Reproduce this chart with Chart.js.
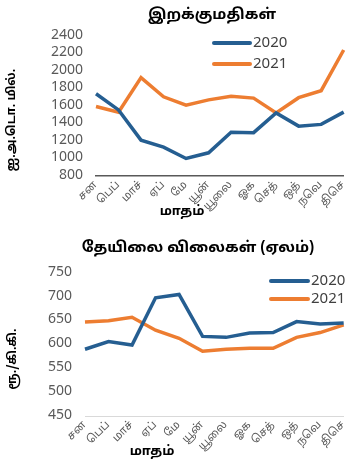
<!DOCTYPE html>
<html>
<head>
<meta charset="utf-8">
<script src="https://cdn.jsdelivr.net/npm/chart.js@4.4.1/dist/chart.umd.min.js"></script>
<style>
  body { margin: 0; background: #fff; }
  .box { position: absolute; left: 0; width: 356px; }
</style>
</head>
<body>
<div class="box" style="top:0;height:228px"><canvas id="imports"></canvas></div>
<div class="box" style="top:228px;height:236px"><canvas id="tea"></canvas></div>
<script>
const months = ['சன', 'பெப்', 'மாச்', 'ஏப்', 'மே', 'யூன்', 'யூலை', 'ஓக', 'செத்', 'ஒத்', 'நவெ', 'திசெ'];

// இறக்குமதிகள் (ஐ.அ.டொ. மில்.)
const imports2020 = [1740, 1555, 1210, 1130, 1000, 1065, 1300, 1295, 1520, 1370, 1390, 1530];
const imports2021 = [1595, 1530, 1925, 1705, 1610, 1670, 1710, 1690, 1520, 1695, 1775, 2240];

// தேயிலை விலைகள் (ரூ./கி.கி.)
const tea2020 = [590, 606, 599, 698, 705, 617, 615, 624, 625, 648, 643, 645];
const tea2021 = [647, 650, 657, 630, 613, 586, 590, 592, 592, 615, 625, 641];

const BLUE = '#255E91';
const ORANGE = '#ED7D31';
const TEXT = '#595959';
const FONT = "'Noto Sans Tamil', 'Lohit Tamil', 'Noto Sans', 'DejaVu Sans', sans-serif";

// titulos y leyenda dibujados a mano dentro del canvas
const decor = {
    id: 'decor',
    afterDraw(chart, args, o) {
        const ctx = chart.ctx;
        ctx.save();
        ctx.fillStyle = '#000';
        ctx.textAlign = 'center';
        ctx.textBaseline = 'middle';

        ctx.font = 'bold 15px ' + FONT;
        ctx.fillText(o.title.text, o.title.x, o.title.y);

        ctx.font = 'bold 13px ' + FONT;
        ctx.fillText(o.xTitle.text, o.xTitle.x, o.xTitle.y);

        ctx.save();
        ctx.translate(o.yTitle.x, o.yTitle.y);
        ctx.rotate(-Math.PI / 2);
        ctx.font = 'bold 12px ' + FONT;
        ctx.fillText(o.yTitle.text, 0, 0);
        ctx.restore();

        // leyenda
        ctx.textAlign = 'left';
        ctx.font = '15px ' + FONT;
        chart.data.datasets.forEach((ds, i) => {
            const y = o.legend.y + i * o.legend.gap;
            ctx.strokeStyle = ds.borderColor;
            ctx.lineWidth = 4;
            ctx.lineCap = 'round';
            ctx.beginPath();
            ctx.moveTo(o.legend.x1, y);
            ctx.lineTo(o.legend.x2, y);
            ctx.stroke();
            ctx.fillStyle = '#404040';
            ctx.fillText(ds.label, o.legend.x2 + 3, y + 1);
        });
        ctx.restore();
    }
};

function lineChart(id, a, b, cfg) {
    const ctx = document.getElementById(id).getContext('2d');
    return new Chart(ctx, {
        type: 'line',
        data: {
            labels: months,
            datasets: [
                { label: '2020', data: a, borderColor: BLUE, borderWidth: 3.5, pointRadius: 0, tension: 0 },
                { label: '2021', data: b, borderColor: ORANGE, borderWidth: 3.5, pointRadius: 0, tension: 0 }
            ]
        },
        options: {
            responsive: true,
            maintainAspectRatio: false,
            animation: false,
            layout: { padding: { top: cfg.top, right: cfg.right, left: 0, bottom: 0 } },
            plugins: {
                legend: { display: false },
                tooltip: { enabled: false },
                decor: cfg.decor
            },
            scales: {
                x: {
                    offset: false,
                    grid: { display: false, drawTicks: false },
                    border: { color: cfg.axisColor, width: cfg.axisWidth },
                    ticks: {
                        minRotation: 45, maxRotation: 45, padding: 3, autoSkip: false,
                        color: TEXT, font: { size: 11, family: FONT }
                    },
                    afterFit: s => { s.height = cfg.xHeight; }
                },
                y: {
                    min: cfg.min, max: cfg.max,
                    grid: { display: false, drawTicks: false },
                    border: { display: false },
                    ticks: {
                        stepSize: cfg.step, padding: 13, autoSkip: false,
                        callback: v => String(v),
                        color: TEXT, font: { size: 14, family: FONT }
                    },
                    afterFit: s => { s.width = cfg.yWidth; }
                }
            }
        },
        plugins: [decor]
    });
}

lineChart('imports', imports2020, imports2021, {
    top: 36, right: 1, xHeight: 52, yWidth: 96,
    min: 800, max: 2400, step: 200,
    axisColor: '#595959', axisWidth: 1.5,
    decor: {
        title: { text: 'இறக்குமதிகள்', x: 212, y: 16 },
        xTitle: { text: 'மாதம்', x: 182, y: 212 },
        yTitle: { text: 'ஐ.அ.டொ. மில்.', x: 13, y: 120 },
        legend: { x1: 214, x2: 250, y: 43, gap: 21 }
    }
});

lineChart('tea', tea2020, tea2021, {
    top: 45, right: 8, xHeight: 48, yWidth: 85,
    min: 450, max: 750, step: 50,
    axisColor: '#d9d9d9', axisWidth: 1,
    decor: {
        title: { text: 'தேயிலை விலைகள் (ஏலம்)', x: 198, y: 21 },
        xTitle: { text: 'மாதம்', x: 152, y: 224 },
        yTitle: { text: 'ரூ./கி.கி.', x: 14, y: 131 },
        legend: { x1: 271, x2: 308, y: 53, gap: 18 }
    }
});
</script>
</body>
</html>
